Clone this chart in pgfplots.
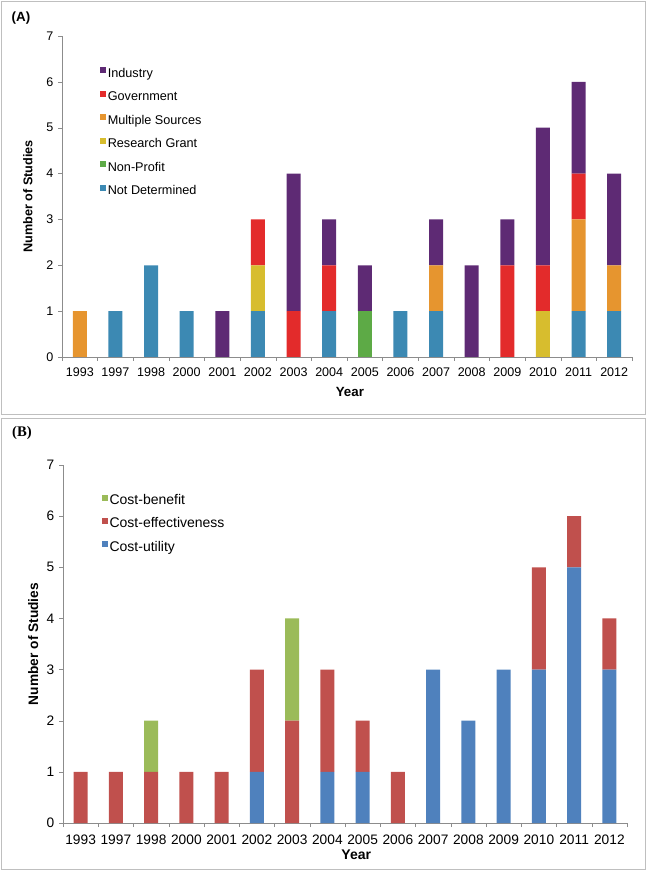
\documentclass[border=0pt]{standalone}
\usepackage{pgfplots}
\usepackage{pgfplotstable}
\pgfplotsset{compat=1.18}
\usepackage{fontspec}
\setmainfont{Liberation Sans}
\newfontfamily\seriffont{Liberation Serif}

\definecolor{cInd}{HTML}{5E2A74}
\definecolor{cGov}{HTML}{E32B2B}
\definecolor{cMul}{HTML}{E6952F}
\definecolor{cRes}{HTML}{D7BD2E}
\definecolor{cNon}{HTML}{5DAA46}
\definecolor{cNot}{HTML}{3C89B3}
\definecolor{cCB}{HTML}{9BBB59}
\definecolor{cCE}{HTML}{C0504D}
\definecolor{cCU}{HTML}{4F81BD}
\definecolor{axgray}{HTML}{8C8C8C}

% panel A: funding source, columns stacked bottom to top
\pgfplotstableread{
x nd np rg ms gov ind
0 0 0 0 1 0 0
1 1 0 0 0 0 0
2 2 0 0 0 0 0
3 1 0 0 0 0 0
4 0 0 0 0 0 1
5 1 0 1 0 1 0
6 0 0 0 0 1 3
7 1 0 0 0 1 1
8 0 1 0 0 0 1
9 1 0 0 0 0 0
10 1 0 0 1 0 1
11 0 0 0 0 0 2
12 0 0 0 0 2 1
13 0 0 1 0 1 3
14 1 0 0 2 1 2
15 1 0 0 1 0 2
}\tabA

% panel B: type of analysis
\pgfplotstableread{
x cu ce cb
0 0 1 0
1 0 1 0
2 0 1 1
3 0 1 0
4 0 1 0
5 1 2 0
6 0 2 2
7 1 2 0
8 1 1 0
9 0 1 0
10 3 0 0
11 2 0 0
12 3 0 0
13 3 2 0
14 5 1 0
15 3 1 0
}\tabB

\pgfplotsset{
  panel/.style={
    scale only axis,
    anchor=south west,
    ybar stacked,
    bar width=10.5pt,
    xmin=-0.5, xmax=15.5,
    ymin=0, ymax=7,
    ytick={0,...,7},
    xtick={-0.5,0.5,...,15.5},
    xticklabels={},
    extra x ticks={0,...,15},
    extra x tick labels={1993,1997,1998,2000,2001,2002,2003,2004,2005,2006,2007,2008,2009,2010,2011,2012},
    extra x tick style={major tick length=0pt},
    axis lines*=left,
    axis line style={draw=axgray},
    tick style={draw=axgray},
    tick align=outside,
    major tick length=3pt,
    /pgf/number format/assume math mode=true,
    xlabel={\bfseries Year},
    ylabel={\bfseries Number of Studies},
    reverse legend,
    legend cell align=left,
    legend image code/.code={\fill[##1] (0pt,0.6pt) rectangle (4.5pt,5.1pt);},
  },
}

\begin{document}
\begin{tikzpicture}
\useasboundingbox (0,0) rectangle (484.5pt,653.25pt);
\draw[black!25] (0.75pt,342.75pt) rectangle (483.75pt,652.5pt);
\draw[black!25] (0.75pt,1.5pt) rectangle (483.75pt,339.75pt);
\node[font=\bfseries\fontsize{10}{12}\selectfont] at (15.75pt,639.75pt) {(A)};
\node[font=\seriffont\bfseries\fontsize{11}{13}\selectfont] at (16.5pt,328.5pt) {(B)};

\begin{axis}[panel,
  at={(46.5pt,385.5pt)},
  width=427.5pt, height=240.75pt,
  tick label style={font=\fontsize{9.4}{11}\selectfont},
  xticklabel style={yshift=-4.5pt},
  xlabel style={font=\fontsize{10}{12}\selectfont, at={(axis description cs:0.505,-0.109)}, anchor=center},
  ylabel style={font=\fontsize{9.5}{11}\selectfont, at={(axis description cs:-0.06,0.5)}, anchor=center},
  legend style={at={(axis description cs:0.06,0.913)}, anchor=north west, draw=none, fill=none,
    font=\fontsize{9.5}{11}\selectfont, row sep=6.6pt,
    nodes={inner sep=1pt, text height=7pt, text depth=2pt}},
]
\addplot[fill=cNot, draw=none] table[x=x, y=nd] {\tabA};
\addplot[fill=cNon, draw=none] table[x=x, y=np] {\tabA};
\addplot[fill=cRes, draw=none] table[x=x, y=rg] {\tabA};
\addplot[fill=cMul, draw=none] table[x=x, y=ms] {\tabA};
\addplot[fill=cGov, draw=none] table[x=x, y=gov] {\tabA};
\addplot[fill=cInd, draw=none] table[x=x, y=ind] {\tabA};
\legend{Not Determined, Non-Profit, Research Grant, Multiple Sources, Government, Industry}
\end{axis}

\begin{axis}[panel,
  at={(47.25pt,36pt)},
  width=423pt, height=268.5pt,
  tick label style={font=\fontsize{10.3}{12}\selectfont},
  xticklabel style={yshift=-5.5pt},
  xlabel style={font=\fontsize{10.5}{12}\selectfont, at={(axis description cs:0.52,-0.089)}, anchor=center},
  ylabel style={font=\fontsize{10.3}{12}\selectfont, at={(axis description cs:-0.053,0.5)}, anchor=center},
  legend style={at={(axis description cs:0.062,0.927)}, anchor=north west, draw=none, fill=none,
    font=\fontsize{10.5}{12}\selectfont, row sep=6.4pt,
    nodes={inner sep=1pt, text height=7pt, text depth=2pt}},
]
\addplot[fill=cCU, draw=none] table[x=x, y=cu] {\tabB};
\addplot[fill=cCE, draw=none] table[x=x, y=ce] {\tabB};
\addplot[fill=cCB, draw=none] table[x=x, y=cb] {\tabB};
\legend{Cost-utility, Cost-effectiveness, Cost-benefit}
\end{axis}
\end{tikzpicture}
\end{document}
